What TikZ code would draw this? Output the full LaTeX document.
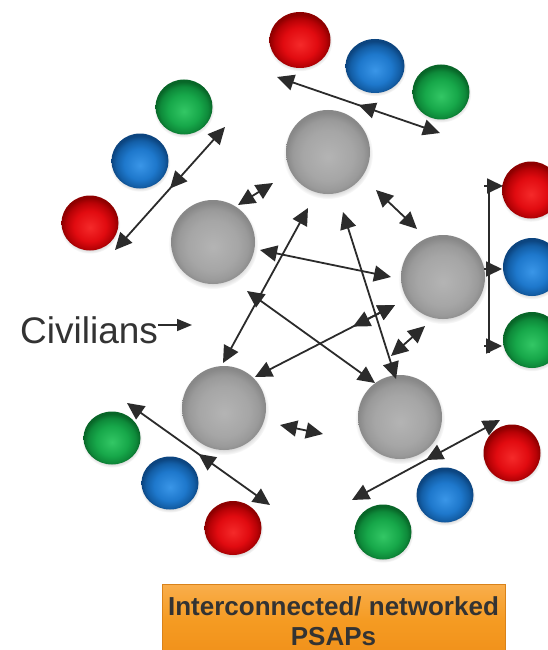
\documentclass[tikz,border=0pt]{standalone}
\usepackage{fontspec}
\setmainfont{Liberation Sans}
\usetikzlibrary{arrows.meta,shapes.geometric,shadows,decorations.markings,calc}

% palette
\definecolor{ink}{HTML}{2B2B2B}
\definecolor{txt}{HTML}{333333}
\definecolor{hubA}{HTML}{B4B4B4}
\definecolor{hubB}{HTML}{A6A6A6}
\definecolor{hubC}{HTML}{9A9A9A}
\definecolor{hubD}{HTML}{888888}
\definecolor{redA}{HTML}{F52A2A}
\definecolor{redB}{HTML}{E10B10}
\definecolor{redC}{HTML}{B80206}
\definecolor{redD}{HTML}{8E0000}
\definecolor{bluA}{HTML}{3A96E8}
\definecolor{bluB}{HTML}{1E78CC}
\definecolor{bluC}{HTML}{135EA6}
\definecolor{bluD}{HTML}{0C4580}
\definecolor{grnA}{HTML}{33C765}
\definecolor{grnB}{HTML}{17A84A}
\definecolor{grnC}{HTML}{0E8A3A}
\definecolor{grnD}{HTML}{086628}
\definecolor{boxtop}{HTML}{F9AE4C}
\definecolor{boxmid}{HTML}{F59B22}
\definecolor{boxbot}{HTML}{F0901A}
\definecolor{boxedge}{HTML}{D9821A}

% disc shadings: the rim sits at 25bp
\pgfdeclareradialshading{hubshade}{\pgfpoint{0bp}{-3bp}}{color(0bp)=(hubA); color(15bp)=(hubB); color(21bp)=(hubC); color(25bp)=(hubD); color(50bp)=(hubD)}
\pgfdeclareradialshading{redshade}{\pgfpoint{0bp}{-4bp}}{color(0bp)=(redA); color(14bp)=(redB); color(21bp)=(redC); color(25bp)=(redD); color(50bp)=(redD)}
\pgfdeclareradialshading{blushade}{\pgfpoint{0bp}{-4bp}}{color(0bp)=(bluA); color(14bp)=(bluB); color(21bp)=(bluC); color(25bp)=(bluD); color(50bp)=(bluD)}
\pgfdeclareradialshading{grnshade}{\pgfpoint{0bp}{-4bp}}{color(0bp)=(grnA); color(14bp)=(grnB); color(21bp)=(grnC); color(25bp)=(grnD); color(50bp)=(grnD)}

\tikzset{
  hub/.style={circle, minimum size=84pt, inner sep=0pt, shading=hubshade,
    circular drop shadow={shadow xshift=0pt, shadow yshift=-2pt, shadow scale=1.07, opacity=0.35}},
  ball/.style={ellipse, minimum width=57pt, minimum height=55pt, inner sep=0pt,
    circular drop shadow={shadow xshift=0pt, shadow yshift=-1.5pt, shadow scale=1.06, opacity=0.3}},
  redball/.style={ball, shading=redshade},
  bluball/.style={ball, shading=blushade},
  grnball/.style={ball, shading=grnshade},
  link/.style={draw=ink, line width=1.8pt, {Triangle[length=17pt, width=16pt]}-{Triangle[length=17pt, width=16pt]}},
  onearrow/.style={draw=ink, line width=1.8pt, -{Triangle[length=16pt, width=15pt]}},
  midtip/.style={postaction={decorate}, decoration={markings,
    mark=at position 0.5 with {\arrowreversed[ink]{Triangle[length=17pt, width=16pt]}}}},
}

\begin{document}
\begin{tikzpicture}[x=1pt, y=-1pt]
\path[fill=white] (0,0) rectangle (548,650);
\useasboundingbox (0,0) rectangle (548,650);

% gray hubs (PSAPs)
\node[hub] (hubT)  at (328,152) {};
\node[hub] (hubL)  at (213,242) {};
\node[hub] (hubR)  at (443,277) {};
\node[hub] (hubBL) at (224,408) {};
\node[hub] (hubBR) at (400,417) {};

% civilian groups
\node[redball, minimum width=61pt, minimum height=56pt] (tR) at (300,40) {};
\node[bluball, minimum width=59pt, minimum height=54pt] (tB) at (375,66) {};
\node[grnball] (tG) at (441,92) {};

\node[grnball] (lG) at (184,107) {};
\node[bluball] (lB) at (140,161) {};
\node[redball] (lR) at (90,223) {};

\node[redball, minimum width=58pt, minimum height=57pt] (rR) at (531,190) {};
\node[bluball, minimum width=58pt, minimum height=58pt] (rB) at (532,267) {};
\node[grnball, minimum width=58pt, minimum height=56pt] (rG) at (532,340) {};

\node[grnball, minimum height=53pt] (bG) at (112,438) {};
\node[bluball, minimum height=53pt] (bB) at (170,483) {};
\node[redball, minimum height=54pt] (bR) at (233,528) {};

\node[redball, minimum height=57pt] (brR) at (512,453) {};
\node[bluball] (brB) at (445,495) {};
\node[grnball] (brG) at (383,532) {};

% connector end points
\coordinate (c1a) at (238,205);  \coordinate (c1b) at (273,183);
\coordinate (c2a) at (376,190);  \coordinate (c2b) at (417,229);
\coordinate (c3a) at (223,363);  \coordinate (c3b) at (308,208);
\coordinate (c4a) at (343,212);  \coordinate (c4b) at (396,379);
\coordinate (c5a) at (260,250);  \coordinate (c5b) at (391,277);
\coordinate (c6a) at (247,291);  \coordinate (c6b) at (375,383);
\coordinate (c7a) at (255,377);  \coordinate (c7b) at (395,305);
\coordinate (c8a) at (353,326.6);
\coordinate (c9a) at (391,356);  \coordinate (c9b) at (425,326);
\coordinate (c10a) at (280,425); \coordinate (c10b) at (323,434);

% links between hubs
\draw[link] (c1a) -- (c1b);
\draw[link] (c2a) -- (c2b);
\draw[link] (c3a) -- (c3b);
\draw[link] (c4a) -- (c4b);
\draw[link] (c5a) -- (c5b);
\draw[link] (c6a) -- (c6b);
\draw[link] (c7a) -- (c7b);
\draw[link] (c8a) -- (c7b);
\draw[link] (c9a) -- (c9b);
\draw[link] (c10a) -- (c10b);

% group brackets
\coordinate (gTa) at (277,77);   \coordinate (gTb) at (440,133);
\coordinate (gLa) at (115,250);  \coordinate (gLb) at (225,127);
\coordinate (gBLa) at (127,403); \coordinate (gBLb) at (270,505);
\coordinate (gBRa) at (352,500); \coordinate (gBRb) at (500,420);
\draw[link, midtip] (gTa) -- (gTb);
\draw[link, midtip] (gLa) -- (gLb);
\draw[link, midtip] (gBLa) -- (gBLb);
\draw[link, midtip] (gBRa) -- (gBRb);

\coordinate (gRa) at (489,185);  \coordinate (gRb) at (489,353);
\coordinate (gR1s) at (484,186); \coordinate (gR1) at (503,186);
\coordinate (gR2s) at (484,269); \coordinate (gR2) at (502,269);
\coordinate (gR3s) at (484,346); \coordinate (gR3) at (502,346);
\draw[draw=ink, line width=1.8pt] (gRa) -- (gRb);
\draw[onearrow] (gR1s) -- (gR1);
\draw[onearrow] (gR2s) -- (gR2);
\draw[onearrow] (gR3s) -- (gR3);

% civilians label
\node[anchor=base west, inner sep=0pt, text=txt, font=\fontsize{37}{40}\selectfont] (civ) at (20,343) {Civilians};
\coordinate (civtip) at (192,325);
\draw[draw=ink, line width=1.5pt, -{Triangle[length=15pt, width=12pt]}] (civ.east |- civtip) -- (civtip);

% caption box
\node[draw=boxedge, line width=0.8pt, top color=boxtop, bottom color=boxbot, middle color=boxmid,
  minimum width=343pt, minimum height=73.5pt, inner sep=0pt, align=center, text=txt,
  font=\fontsize{26}{30}\selectfont\bfseries] (psap) at (333.5,620.75)
  {Interconnected/ networked\\PSAPs};
\end{tikzpicture}
\end{document}
